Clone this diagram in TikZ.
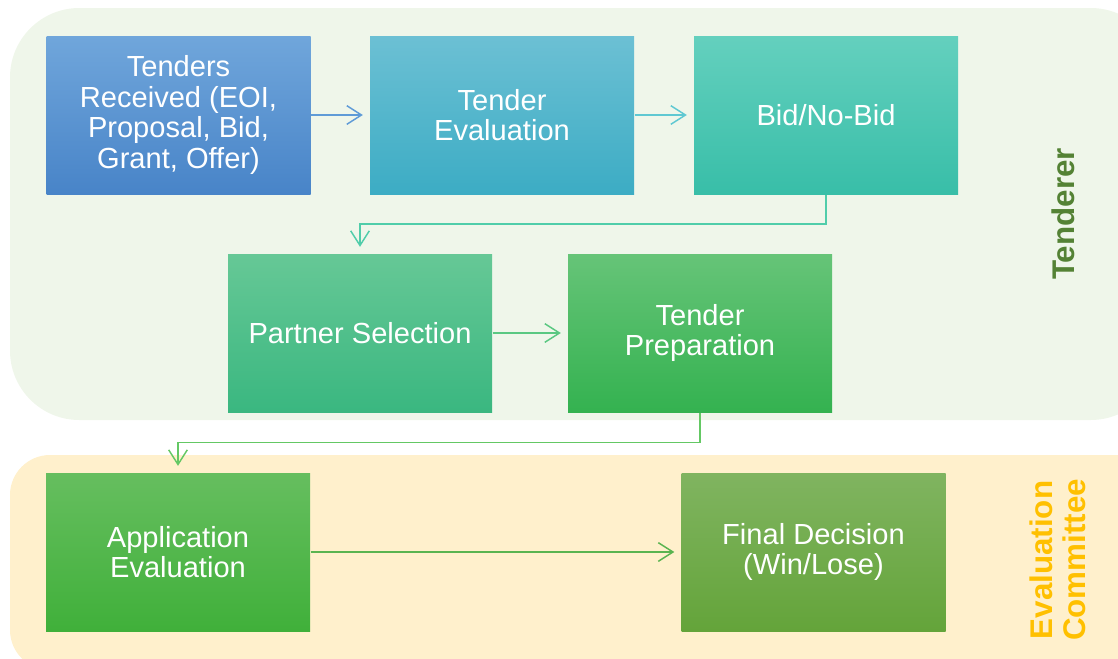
\documentclass[tikz,border=0pt]{standalone}
\usepackage{fontspec}
\setmainfont{Liberation Sans}
\usetikzlibrary{arrows.meta,calc}

\tikzset{every picture/.style={line width=0.75pt}}
\tikzset{
  stagebox/.style={draw=none, minimum width=198pt, minimum height=118.5pt, inner sep=0.75pt,
    align=center, text=white, font=\fontsize{21.8}{22.8}\selectfont},
  flowarrow/.style={line width=1.3pt, shorten >=5pt, -{Straight Barb[length=11pt,width=14pt,line width=1.1pt]}},
  sidelabel/.style={rotate=90, align=center, font=\bfseries\fontsize{23.5}{24.5}\selectfont, inner sep=0.75pt}
}

\begin{document}
\begin{tikzpicture}[x=0.75pt,y=0.75pt,yscale=-1,xscale=1]
\useasboundingbox (0,0) rectangle (1118,658);

%Shape: Rounded Rect [id:tenderer panel]
\fill [color={rgb, 255:red, 239; green, 246; blue, 234 }, rounded corners=52pt] (10,8) rectangle (1160,420) ;
%Shape: Rounded Rect [id:committee panel]
\fill [color={rgb, 255:red, 255; green, 240; blue, 204 }, rounded corners=30pt] (10,455) rectangle (1160,670) ;

%Shape: Rectangle [id:received]
\node [stagebox, top color={rgb, 255:red, 112; green, 166; blue, 219 }, bottom color={rgb, 255:red, 72; green, 132; blue, 200 }] (received) at (178.5,115) {Tenders\\Received (EOI,\\Proposal, Bid,\\Grant, Offer)};
%Shape: Rectangle [id:evaluation]
\node [stagebox, top color={rgb, 255:red, 108; green, 192; blue, 212 }, bottom color={rgb, 255:red, 60; green, 172; blue, 196 }] (evaluation) at (502,115) {Tender\\Evaluation};
%Shape: Rectangle [id:bidnobid]
\node [stagebox, top color={rgb, 255:red, 100; green, 208; blue, 190 }, bottom color={rgb, 255:red, 56; green, 190; blue, 168 }] (bidnobid) at (826,115) {Bid/No-Bid};
%Shape: Rectangle [id:partner]
\node [stagebox, top color={rgb, 255:red, 102; green, 200; blue, 150 }, bottom color={rgb, 255:red, 58; green, 183; blue, 128 }] (partner) at (360,333) {Partner Selection};
%Shape: Rectangle [id:preparation]
\node [stagebox, top color={rgb, 255:red, 102; green, 196; blue, 120 }, bottom color={rgb, 255:red, 52; green, 178; blue, 80 }] (preparation) at (700,333) {Tender\\Preparation};
%Shape: Rectangle [id:application]
\node [stagebox, top color={rgb, 255:red, 102; green, 190; blue, 95 }, bottom color={rgb, 255:red, 64; green, 176; blue, 58 }] (application) at (178,552) {Application\\Evaluation};
%Shape: Rectangle [id:decision]
\node [stagebox, top color={rgb, 255:red, 128; green, 180; blue, 96 }, bottom color={rgb, 255:red, 100; green, 164; blue, 58 }] (decision) at (813.5,552) {Final Decision\\(Win/Lose)};

%Straight Lines [id:received to evaluation]
\draw [flowarrow, color={rgb, 255:red, 95; green, 155; blue, 215 }] (received) -- (evaluation) ;
%Straight Lines [id:evaluation to bidnobid]
\draw [flowarrow, color={rgb, 255:red, 95; green, 200; blue, 210 }] (evaluation) -- (bidnobid) ;
%Elbow Lines [id:bidnobid to partner]
\draw [flowarrow, color={rgb, 255:red, 80; green, 205; blue, 170 }] (bidnobid.south) |- ($(bidnobid.south)!0.5!(partner.north)$) -| (partner.north) ;
%Straight Lines [id:partner to preparation]
\draw [flowarrow, color={rgb, 255:red, 90; green, 200; blue, 130 }] (partner) -- (preparation) ;
%Elbow Lines [id:preparation to application]
\draw [flowarrow, color={rgb, 255:red, 100; green, 200; blue, 100 }] (preparation.south) |- ($(preparation.south)!0.5!(application.north)$) -| (application.north) ;
%Straight Lines [id:application to decision]
\draw [flowarrow, color={rgb, 255:red, 90; green, 180; blue, 80 }] (application) -- (decision) ;

% Text Node
\node [sidelabel, text={rgb, 255:red, 84; green, 130; blue, 53 }] (tenderer) at (1063,214) {Tenderer};
% Text Node
\node [sidelabel, text={rgb, 255:red, 255; green, 192; blue, 0 }] (committee) at (1058,560) {Evaluation\\Committee};

\end{tikzpicture}
\end{document}
